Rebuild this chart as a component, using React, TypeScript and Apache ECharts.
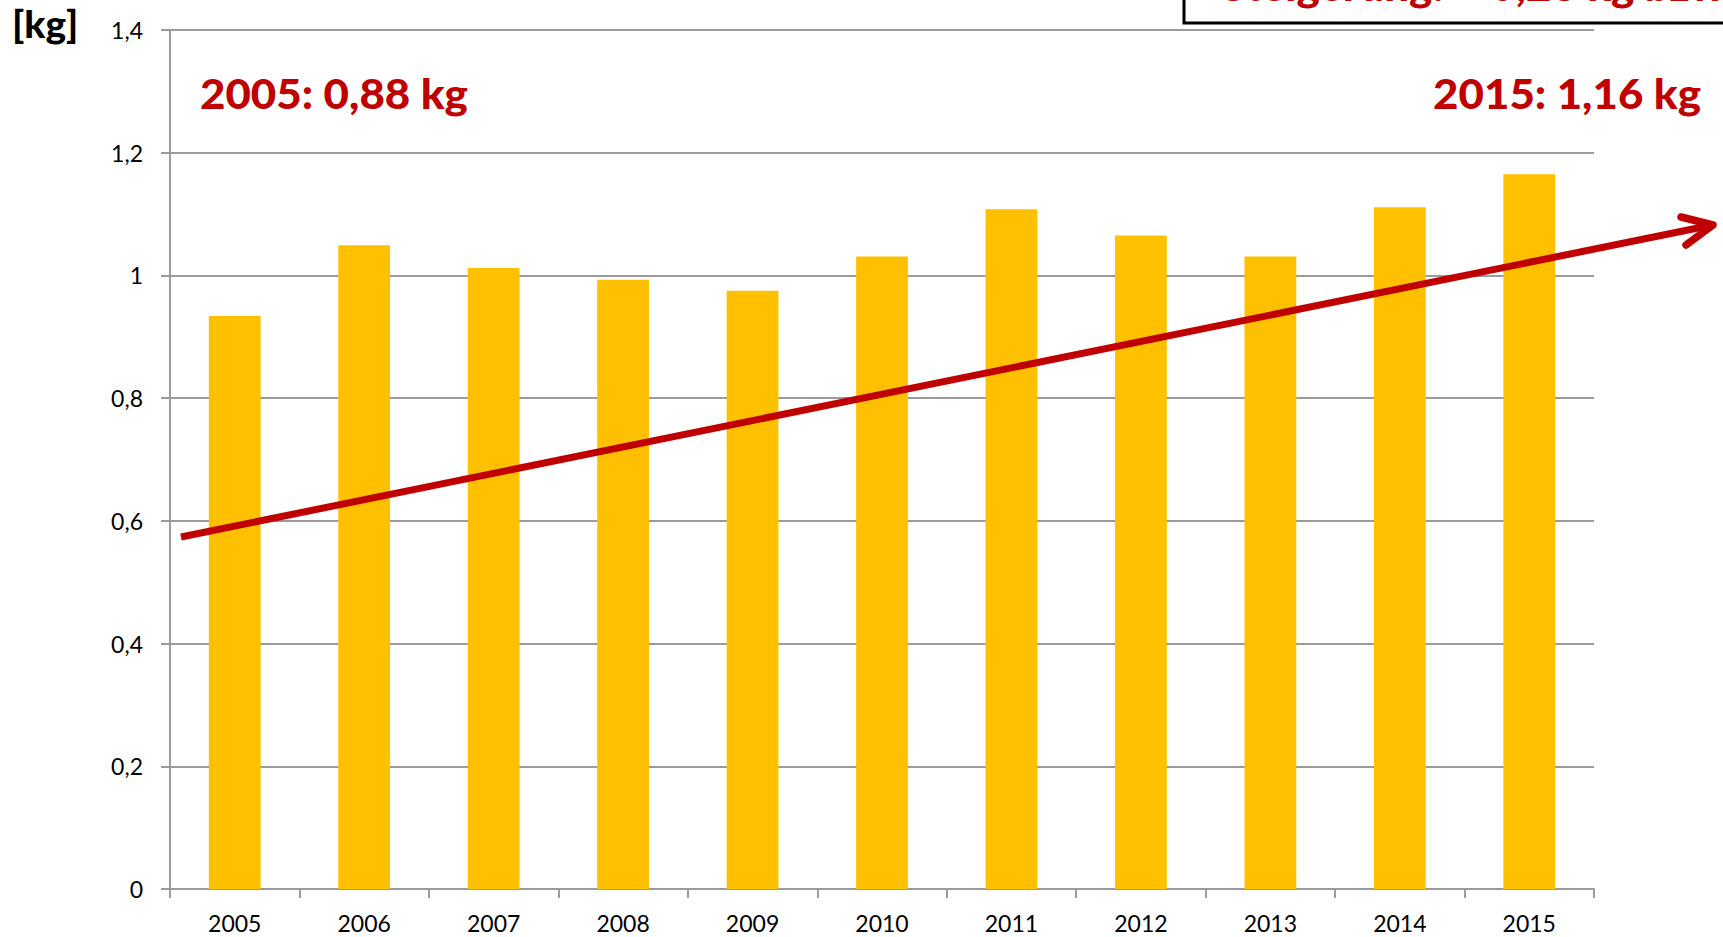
import React, { useEffect, useRef } from "react";
import * as echarts from "echarts";

const years = ["2005", "2006", "2007", "2008", "2009", "2010", "2011", "2012", "2013", "2014", "2015"];
const values = [0.934, 1.049, 1.012, 0.993, 0.975, 1.031, 1.108, 1.065, 1.031, 1.111, 1.165];
const yMin = 0;
const yMax = 1.4;
const yStep = 0.2;
const unitLabel = "[kg]";
const startLabel = "2005: 0,88 kg";
const endLabel = "2015: 1,16 kg";
const boxText = "Steigerung: + 0,28 kg bzw. + 32 %";

const RED = "#C00000";
const GRID = "#9B9B9B";

export default function App() {
  const ref = useRef<HTMLDivElement>(null);
  useEffect(() => {
    document.body.style.margin = "0";
    const chart = echarts.init(ref.current!, null, { renderer: "svg" });
    chart.setOption({
      animation: false,
      backgroundColor: "#fff",
      grid: { left: 170, right: 129, top: 30, bottom: 48, containLabel: false },
      xAxis: {
        type: "category",
        data: years,
        boundaryGap: true,
        axisLine: { show: true, lineStyle: { color: GRID, width: 2 } },
        axisTick: { show: true, length: 9, alignWithLabel: false, lineStyle: { color: GRID, width: 2 } },
        axisLabel: { color: "#000", fontFamily: "Lato", fontSize: 23, margin: 22 },
      },
      yAxis: {
        type: "value",
        min: yMin,
        max: yMax,
        interval: yStep,
        axisLine: { show: true, lineStyle: { color: GRID, width: 2 } },
        axisTick: { show: true, length: 9, lineStyle: { color: GRID, width: 2 } },
        splitLine: { show: true, lineStyle: { color: GRID, width: 2 } },
        axisLabel: {
          color: "#000",
          fontFamily: "Lato",
          fontSize: 23,
          margin: 27,
          formatter: (v: number) => String(Math.round(v * 10) / 10).replace(".", ","),
        },
      },
      series: [
        {
          type: "bar",
          data: values,
          barWidth: "40%",
          itemStyle: { color: "#FFC000" },
          z: 3,
        },
      ],
      graphic: [
        {
          type: "rect",
          z: 10,
          shape: { x: 1184, y: -60, width: 600, height: 83 },
          style: { fill: "#fff", stroke: "#000", lineWidth: 3 },
        },
        {
          type: "text",
          z: 11,
          x: 1222,
          y: -15,
          scaleX: 1.07,
          style: { text: boxText, font: "900 41px Lato", fill: RED, verticalAlign: "middle", align: "left" },
        },
        {
          type: "text",
          z: 11,
          x: 12,
          y: 24,
          scaleX: 1.05,
          style: { text: unitLabel, font: "900 37px Lato", fill: "#000", verticalAlign: "middle", align: "left" },
        },
        {
          type: "text",
          z: 11,
          x: 200,
          y: 93,
          scaleX: 1.07,
          style: { text: startLabel, font: "900 41px Lato", fill: RED, verticalAlign: "middle", align: "left" },
        },
        {
          type: "text",
          z: 11,
          x: 1701,
          y: 93,
          scaleX: 1.07,
          style: { text: endLabel, font: "900 41px Lato", fill: RED, verticalAlign: "middle", align: "right" },
        },
        {
          type: "polyline",
          z: 12,
          shape: { points: [[181, 537], [1710, 225.5]] },
          style: { stroke: RED, lineWidth: 7, fill: null, lineCap: "butt" },
        },
        {
          type: "polyline",
          z: 12,
          shape: { points: [[1681, 217], [1713, 225], [1686, 245]] },
          style: { stroke: RED, lineWidth: 7.5, fill: null, lineCap: "round", lineJoin: "round" },
        },
      ],
    });
    return () => chart.dispose();
  }, []);
  return <div ref={ref} style={{ width: 1723, height: 937 }} />;
}
